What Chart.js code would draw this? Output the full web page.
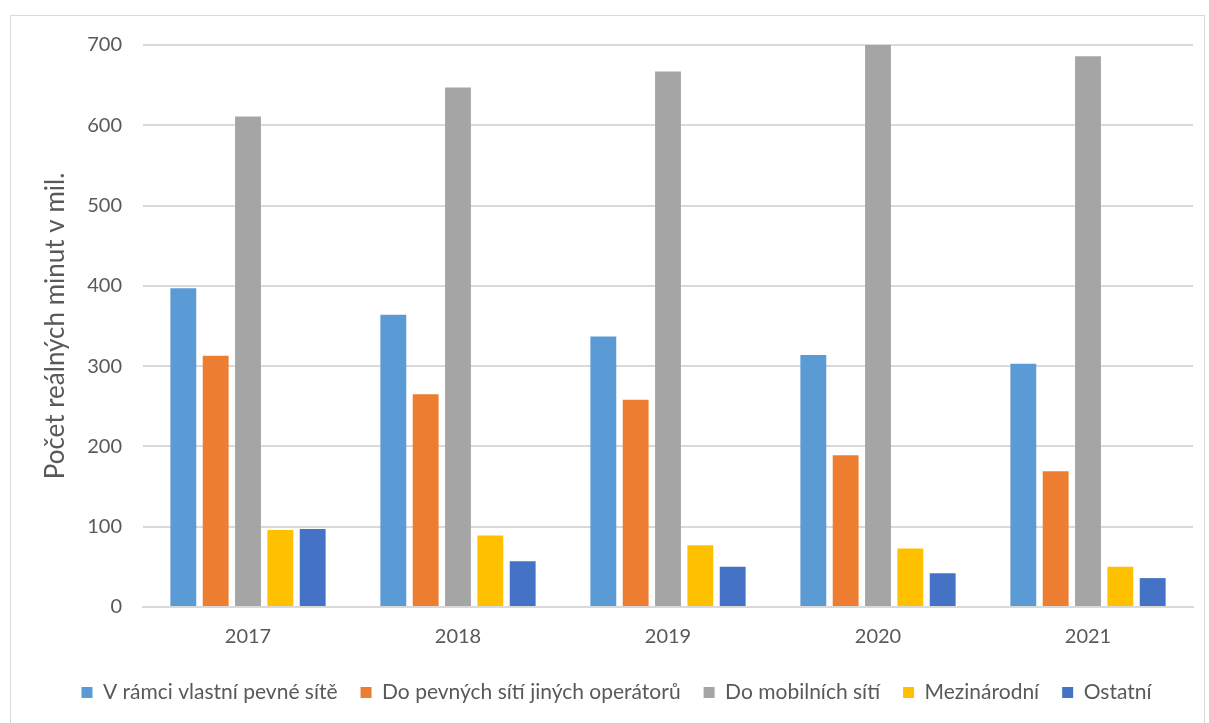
<!DOCTYPE html>
<html lang="cs">
<head>
<meta charset="utf-8">
<title>Počet reálných minut</title>
<script src="https://cdn.jsdelivr.net/npm/chart.js@4.4.1/dist/chart.umd.min.js"></script>
<style>
    html, body {
        margin: 0;
        padding: 0;
        background: #ffffff;
    }
    #frame {
        position: absolute;
        left: 10px;
        top: 15px;
        width: 1195px;
        height: 712px;
        border: 1px solid #d9d9d9;
        box-sizing: border-box;
    }
    #wrap {
        position: absolute;
        left: 0;
        top: 0;
        width: 1209px;
        height: 723px;
    }
</style>
</head>
<body>
<div id="frame"></div>
<div id="wrap"><canvas id="minutes"></canvas></div>
<script>
// Roky a objemy hovorů (mil. minut)
const years = ['2017', '2018', '2019', '2020', '2021'];
const seriesNames = [
    'V rámci vlastní pevné sítě',
    'Do pevných sítí jiných operátorů',
    'Do mobilních sítí',
    'Mezinárodní',
    'Ostatní'
];
const ownNetwork = [397, 364, 337, 314, 303];
const otherFixed = [313, 265, 258, 189, 169];
const mobile = [611, 647, 667, 700, 686];
const international = [96, 89, 77, 73, 50];
const other = [97, 57, 50, 42, 36];
const yTicks = [0, 100, 200, 300, 400, 500, 600, 700];

const colors = ['#5b9bd5', '#ed7d31', '#a5a5a5', '#ffc000', '#4472c4'];
const values = [ownNetwork, otherFixed, mobile, international, other];

const textColor = '#595959';
const font = 'Lato, "Open Sans", sans-serif';

const ctx = document.getElementById('minutes').getContext('2d');

new Chart(ctx, {
    type: 'bar',
    data: {
        labels: years,
        datasets: seriesNames.map((name, i) => ({
            label: name,
            data: values[i],
            backgroundColor: colors[i],
            borderWidth: 0,
            barPercentage: 0.8,
            categoryPercentage: 0.77
        }))
    },
    options: {
        responsive: true,
        maintainAspectRatio: false,
        animation: false,
        layout: {
            padding: { left: 40, right: 16, top: 45, bottom: 10 }
        },
        plugins: {
            legend: {
                position: 'bottom',
                labels: {
                    color: textColor,
                    font: { family: font, size: 21 },
                    boxWidth: 11,
                    boxHeight: 11,
                    padding: 23
                }
            },
            tooltip: { enabled: false }
        },
        scales: {
            x: {
                grid: { display: false },
                border: { display: true, color: '#d9d9d9', width: 2 },
                ticks: {
                    color: textColor,
                    font: { family: font, size: 20 },
                    padding: 10
                }
            },
            y: {
                min: 0,
                max: 700,
                afterBuildTicks: (axis) => {
                    axis.ticks = yTicks.map(v => ({ value: v }));
                },
                // pevná šířka osy, aby plocha grafu začínala na x = 143
                afterFit: (axis) => {
                    axis.width = 103;
                },
                grid: {
                    color: '#d9d9d9',
                    lineWidth: 2,
                    drawTicks: false
                },
                border: { display: false },
                ticks: {
                    color: textColor,
                    font: { family: font, size: 20 },
                    padding: 21
                },
                title: {
                    display: true,
                    text: 'Počet reálných minut v mil.',
                    color: textColor,
                    font: { family: font, size: 26 },
                    padding: { top: 0, bottom: 0 }
                }
            }
        }
    }
});
</script>
</body>
</html>
